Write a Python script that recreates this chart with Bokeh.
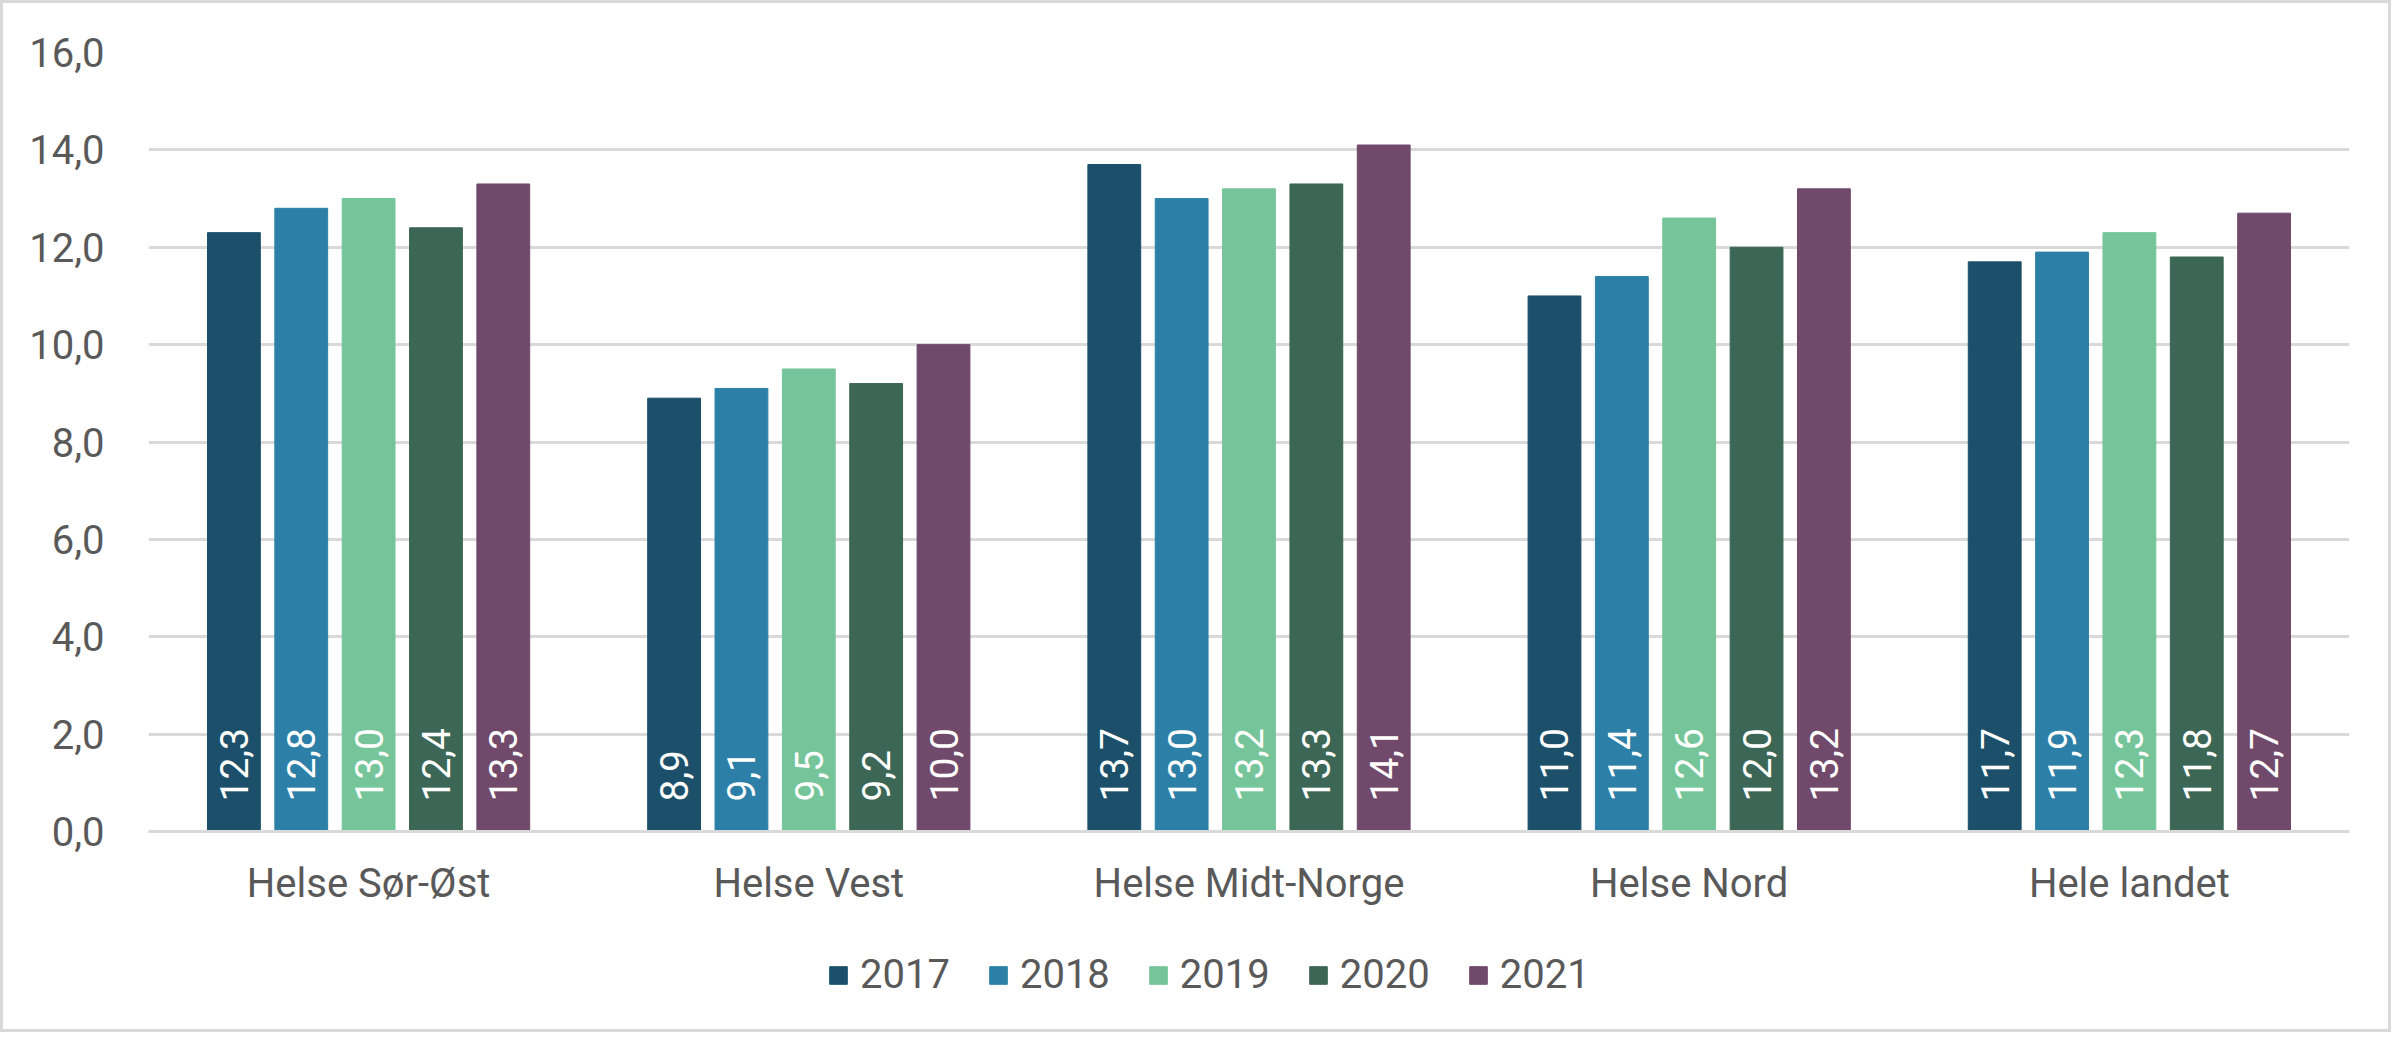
from bokeh.plotting import figure
from bokeh.layouts import column
from bokeh.models import ColumnDataSource, FactorRange, FixedTicker, Range1d, LabelSet, Legend
from bokeh.transform import dodge
from bokeh.embed import file_html
from bokeh.resources import INLINE
from bokeh.core.properties import value

regions = ["Helse Sør-Øst", "Helse Vest", "Helse Midt-Norge", "Helse Nord", "Hele landet"]
years = ["2017", "2018", "2019", "2020", "2021"]
v2017 = [12.3, 8.9, 13.7, 11.0, 11.7]
v2018 = [12.8, 9.1, 13.0, 11.4, 11.9]
v2019 = [13.0, 9.5, 13.2, 12.6, 12.3]
v2020 = [12.4, 9.2, 13.3, 12.0, 11.8]
v2021 = [13.3, 10.0, 14.1, 13.2, 12.7]
y_ticks = [0, 2, 4, 6, 8, 10, 12, 14, 16]
y_tick_labels = ["0,0", "2,0", "4,0", "6,0", "8,0", "10,0", "12,0", "14,0", "16,0"]

series = [v2017, v2018, v2019, v2020, v2021]
colors = ["#1b4f6a", "#2c80a7", "#76c59a", "#3c6656", "#70496b"]
offsets = [-0.306, -0.153, 0.0, 0.153, 0.306]

FONT = "Roboto"
TXT = "#595959"
GRID = "#d9d9d9"
W = 2385

p = figure(x_range=FactorRange(factors=regions, range_padding=0),
           y_range=Range1d(0, 16),
           width=W, height=930, output_backend="svg", toolbar_location=None,
           min_border_left=145, min_border_right=39, min_border_top=49, min_border_bottom=102)
p.outline_line_color = None
p.background_fill_color = "white"
p.border_fill_color = "white"

data = {"region": regions}
for y, vals in zip(years, series):
    data["v" + y] = vals
    data["l" + y] = [f"{v:.1f}".replace(".", ",") for v in vals]
data["zero"] = [0] * len(regions)
src = ColumnDataSource(data)

for y, col, off in zip(years, colors, offsets):
    p.vbar(x=dodge("region", off, range=p.x_range), top="v" + y, width=0.12, source=src,
           fill_color=col, line_color=col)
    lab = LabelSet(x=dodge("region", off, range=p.x_range), y="zero", text="l" + y, source=src,
                   angle=1.5708, text_align="left", text_baseline="middle",
                   y_offset=30, text_color="white", text_font=value(FONT),
                   text_font_size="39px")
    p.add_layout(lab)

p.yaxis.ticker = FixedTicker(ticks=y_ticks)
p.yaxis.major_label_overrides = {t: l for t, l in zip(y_ticks, y_tick_labels)}
p.yaxis.axis_line_color = None
p.yaxis.major_tick_line_color = None
p.yaxis.minor_tick_line_color = None
p.yaxis.major_label_standoff = 38
p.yaxis.major_label_text_font = FONT
p.yaxis.major_label_text_font_size = "40px"
p.yaxis.major_label_text_color = TXT

p.xaxis.axis_line_color = GRID
p.xaxis.axis_line_width = 3
p.xaxis.major_tick_line_color = None
p.xaxis.minor_tick_line_color = None
p.xaxis.major_label_standoff = 22
p.xaxis.major_label_text_font = FONT
p.xaxis.major_label_text_font_size = "40px"
p.xaxis.major_label_text_color = TXT

p.xgrid.grid_line_color = None
p.ygrid.grid_line_color = GRID
p.ygrid.grid_line_width = 3

# legend strip (hidden bar renderers only supply the legend swatches)
p2 = figure(x_range=Range1d(1, 2), y_range=Range1d(1, 2), width=W, height=96,
            output_backend="svg", toolbar_location=None, x_axis_type=None, y_axis_type=None,
            min_border_left=0, min_border_right=0, min_border_top=0, min_border_bottom=12)
p2.outline_line_color = None
p2.xgrid.visible = False
p2.ygrid.visible = False
items = []
for y, col in zip(years, colors):
    r = p2.vbar(x="zero", top="v" + y, width=0.1, source=src, fill_color=col, line_color=col,
                visible=False)
    items.append((y, [r]))
lg = Legend(items=items, orientation="horizontal", location=(679, 19),
            padding=0, margin=0, spacing=37, label_standoff=11,
            glyph_width=22, glyph_height=22,
            label_text_font=FONT, label_text_font_size="40px", label_text_color=TXT,
            border_line_color=None, background_fill_alpha=0,
            inactive_fill_alpha=0)
p2.add_layout(lg, "center")

layout = column(p, p2, spacing=0)
layout.styles = {"border": "3px solid #d9d9d9", "box-sizing": "border-box", "background": "white"}

open("out.html", "w").write(file_html(layout, INLINE))
